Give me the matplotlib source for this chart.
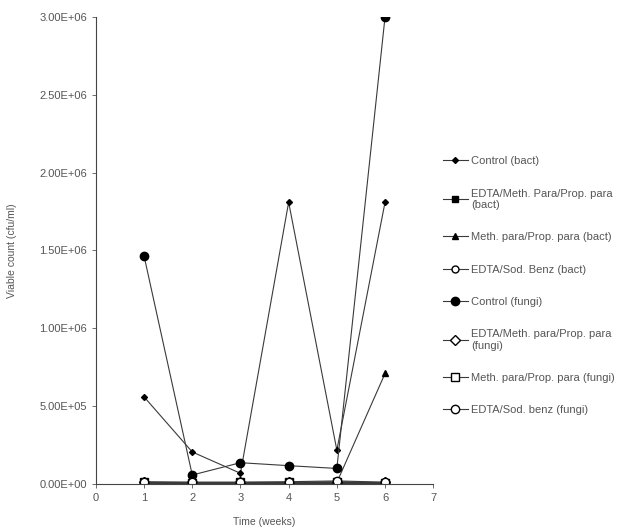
#----------------------------------------------------------
"""
Viable count over time for bacterial and fungal challenge
tests with different preservative systems.
"""
#----------------------------------------------------------
import numpy as np
import matplotlib
matplotlib.use('Agg')
import matplotlib.pyplot as plt
from matplotlib.ticker import FormatStrFormatter

weeks = [1, 2, 3, 4, 5, 6]

control_bact = [5.6e5, 2.06e5, 6.9e4, 1.81e6, 2.18e5, 1.81e6]
edta_meth_bact = [5e3, 5e3, 5e3, 5e3, 5e3, 5e3]
meth_bact = [1e4, 8e3, 8e3, 8e3, 1e4, 7.1e5]
edta_sod_bact = [1.2e4, 1.2e4, 1.2e4, 1.2e4, 1.2e4, 1.2e4]
control_fungi = [1.465e6, 5.8e4, 1.37e5, 1.18e5, 1.0e5, 3.0e6]
edta_meth_fungi = [1.5e4, 1.5e4, 1.5e4, 1.5e4, 1.5e4, 1.5e4]
meth_fungi = [1e4, 6e3, 1e4, 1e4, 1.5e4, 8e3]
edta_sod_fungi = [1.5e4, 1.2e4, 1.2e4, 1.5e4, 2e4, 1.2e4]

labels = [
    'Control (bact)',
    'EDTA/Meth. Para/Prop. para\n(bact)',
    'Meth. para/Prop. para (bact)',
    'EDTA/Sod. Benz (bact)',
    'Control (fungi)',
    'EDTA/Meth. para/Prop. para\n(fungi)',
    'Meth. para/Prop. para (fungi)',
    'EDTA/Sod. benz (fungi)',
]

#----------------------------------------------------------

def main():
    plt.rcParams['font.family'] = ['Liberation Sans', 'DejaVu Sans']
    grey = '#555555'
    series = [control_bact, edta_meth_bact, meth_bact, edta_sod_bact,
              control_fungi, edta_meth_fungi, meth_fungi, edta_sod_fungi]
    # marker, size, face colour
    styles = [('D', 3, 'black'), ('s', 5, 'black'), ('^', 5, 'black'),
              ('o', 5, 'white'), ('o', 6, 'black'), ('D', 5, 'white'),
              ('s', 6, 'white'), ('o', 6, 'white')]

    fig = plt.figure(figsize=(6.39, 5.29), dpi=100)
    ax = fig.add_axes([0.150, 0.085, 0.528, 0.883])
    for vals, lab, (m, ms, fc) in zip(series, labels, styles):
        ax.plot(weeks, vals, color='#3a3a3a', lw=0.8, marker=m,
                markersize=ms, markerfacecolor=fc, markeredgecolor='black',
                markeredgewidth=1.0, label=lab)

    ax.set_xlim(0, 7)
    ax.set_ylim(0, 3.0e6)
    ax.set_xticks(np.arange(0, 8))
    ax.set_yticks(np.arange(0, 3.01e6, 5e5))
    ax.yaxis.set_major_formatter(FormatStrFormatter('%.2E'))
    for s in ['top', 'right']:
        ax.spines[s].set_visible(False)
    for s in ['left', 'bottom']:
        ax.spines[s].set_color('#444444')
        ax.spines[s].set_linewidth(0.8)
    ax.tick_params(labelsize=8, colors=grey, length=3, width=0.6)
    ax.set_xlabel('Time (weeks)', fontsize=7.5, color=grey, labelpad=10)
    ax.set_ylabel('Viable count (cfu/ml)', fontsize=7.5, color=grey,
                  labelpad=16)

    leg = ax.legend(loc='upper left', bbox_to_anchor=(1.0, 0.723),
                    frameon=False, fontsize=8, labelspacing=2.0,
                    handlelength=2.2, handletextpad=0.3)
    for t in leg.get_texts():
        t.set_color(grey)

    fig.savefig('out.png', dpi=100)


#----------------------------------------------------------
if __name__ == '__main__':
    main()
